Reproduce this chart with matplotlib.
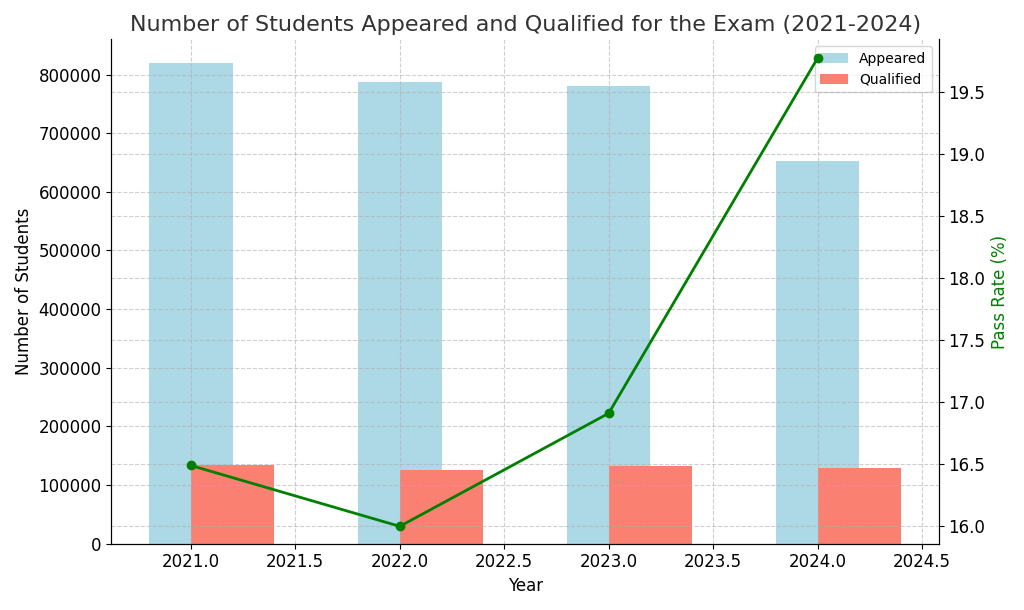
import matplotlib.pyplot as plt

years = [2021, 2022, 2023, 2024]
appeared = [819000, 787000, 781000, 653000]
qualified = [135000, 126000, 132000, 129000]
pass_rate = [16.49, 16.00, 16.91, 19.77]

fig, ax1 = plt.subplots(figsize=(10.24, 6.1), dpi=100)

ax1.bar(years, appeared, width=0.4, color="lightblue", label="Appeared")
ax1.bar([y + 0.2 for y in years], qualified, width=0.4, color="salmon", label="Qualified")
ax1.set_xlabel("Year", fontsize=12)
ax1.set_ylabel("Number of Students", fontsize=12)
ax1.tick_params(labelsize=12)
ax1.grid(True, linestyle="--", alpha=0.6)
ax1.set_ylim(0, 860000)
ax1.set_xlim(2020.62, 2024.58)
ax1.legend(loc="upper right")

ax2 = ax1.twinx()
ax2.plot(years, pass_rate, color="green", marker="o", linewidth=2, label="Pass Rate")
ax2.set_ylabel("Pass Rate (%)", color="green", fontsize=12)
ax2.tick_params(labelsize=12)
ax2.set_ylim(15.86, 19.92)
ax2.grid(True, linestyle="--", alpha=0.6)

for ax in (ax1, ax2):
    for side in ("top",):
        ax.spines[side].set_visible(False)

plt.title("Number of Students Appeared and Qualified for the Exam (2021-2024)", fontsize=16, color="#333333")
plt.tight_layout()
plt.savefig("out.png")
